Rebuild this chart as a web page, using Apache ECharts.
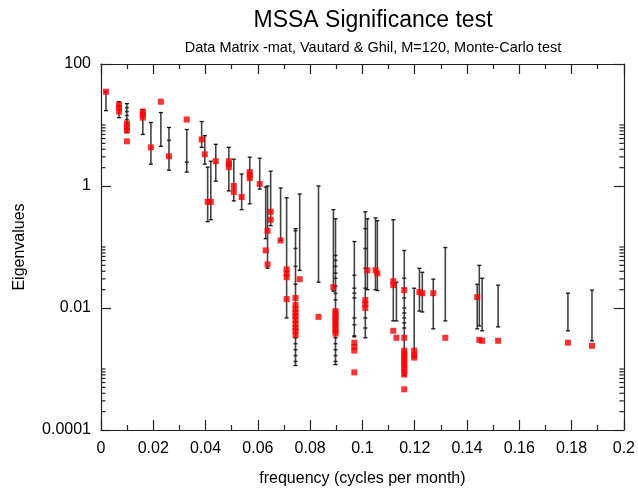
<!DOCTYPE html>
<html><head><meta charset="utf-8">
<script src="https://cdn.jsdelivr.net/npm/echarts@6/dist/echarts.min.js"></script>
<style>html,body{margin:0;padding:0;background:#fff}#c{width:638px;height:492px}</style>
</head><body><div id="c"></div>
<script>
// Monte-Carlo error bars: frequency, upper and lower limits
const barFreq = [0.0019,0.0069,0.0099,0.0160,0.0191,0.0229,0.0260,0.0328,0.0385,0.0397,0.0408,0.0420,0.0439,0.0489,0.0508,0.0538,0.0569,0.0607,0.0630,0.0637,0.0649,0.0687,0.0710,0.0744,0.0760,0.0832,0.0889,0.0897,0.0969,0.1011,0.1019,0.1050,0.1057,0.1118,0.1130,0.1160,0.1198,0.1218,0.1229,0.1271,0.1317,0.1439,0.1447,0.1458,0.1519,0.1786,0.1878];
const barHigh = [35.1,24.1,22.4,17.9,11.0,16.0,9.1,8.45,11.4,6.7,2.04,2.55,4.82,4.3,2.75,1.57,2.97,2.85,0.96,1.0,1.75,0.93,0.64,0.20,0.74,1.0,0.41,0.29,0.123,0.378,0.29,0.30,0.27,0.28,0.0265,0.0877,0.0211,0.0447,0.0385,0.0297,0.098,0.0245,0.05,0.0308,0.0237,0.0175,0.0196];
const barLow  = [17.2,13.2,7.55,7.0,2.28,4.47,1.82,1.69,4.3,2.28,0.26,0.28,1.2,0.83,0.57,0.41,0.51,0.89,0.137,0.045,0.224,0.128,0.00687,0.00114,0.0415,0.0265,0.0189,0.00118,0.00337,0.00325,0.02,0.02,0.0193,0.00615,0.00615,0.00078,0.00154,0.0089,0.0086,0.00456,0.00615,0.00456,0.0051,0.00423,0.0049,0.00423,0.0029];
// Individual Monte-Carlo marks along the bars
const dotFreq = [0.0099,0.0099,0.0099,0.0099,0.0099,0.0260,0.0328,
  0.0744,0.0744,0.0744,0.0744,0.0744,0.0744,0.0744,0.0744,0.0744,
  0.0897,0.0897,0.0897,0.0897,0.0897,0.0897,0.0897,0.0897,0.0897,0.0897,0.0897,0.0897,0.0897,
  0.0969,0.0969,0.0969,0.0969,0.0969,0.0969,0.0969,
  0.1011,0.1011,0.1011,0.1011,0.1011,0.1011,
  0.1160,0.1160,0.1160,0.1160,0.1160,0.1160,0.1160,0.1160];
const dotVal = [19.3,16.6,14.3,12.3,10.6,5.6,2.46,
  0.185,0.0946,0.0482,0.0245,0.00325,0.0026,0.00207,0.00166,0.00133,
  0.0728,0.0605,0.0482,0.0373,0.0307,0.0227,0.0174,0.0136,0.00325,0.0026,0.00207,0.00166,0.00133,
  0.0344,0.0211,0.0175,0.0146,0.00687,0.0053,0.0035,
  0.2,0.0946,0.0447,0.0211,0.00687,0.0047,
  0.0308,0.0211,0.0146,0.010,0.0083,0.00687,0.0057,0.0047];
// Eigenvalues of the data (red squares)
const redFreq = [0.0019,0.0069,0.0069,0.0069,0.0099,0.0099,0.0099,0.0099,0.0160,0.0160,0.0160,0.0191,0.0229,0.0260,0.0328,0.0385,0.0397,0.0408,0.0420,0.0439,0.0489,0.0489,0.0489,0.0508,0.0508,0.0538,0.0569,0.0569,0.0569,0.0607,0.0630,0.0637,0.0637,0.0649,0.0649,0.0687,0.0710,0.0710,0.0710,0.0710,
  0.0744,0.0744,0.0744,0.0744,0.0744,0.0744,0.0744,0.0744,0.0744,0.0744,
  0.0760,0.0832,0.0889,
  0.0897,0.0897,0.0897,0.0897,0.0897,0.0897,0.0897,0.0897,0.0897,
  0.0969,0.0969,0.0969,0.0969,0.1011,0.1011,0.1011,0.1019,0.1050,0.1057,0.1118,0.1118,0.1118,0.1130,
  0.1160,0.1160,0.1160,0.1160,0.1160,0.1160,0.1160,0.1160,0.1160,0.1160,0.1160,0.1160,
  0.1198,0.1198,0.1198,0.1218,0.1229,0.1271,0.1317,0.1439,0.1447,0.1458,0.1519,0.1786,0.1878];
const redVal  = [35.1,21.5,19.3,16.6,10.6,9.1,8.1,5.4,16.6,14.8,13.2,4.3,24.1,3.07,12.3,5.8,3.31,0.55,0.55,2.55,2.55,2.28,2.04,1.0,0.80,0.66,1.69,1.51,1.35,1.08,0.088,0.185,0.052,0.378,0.28,0.128,0.043,0.037,0.032,0.014,
  0.0146,0.0112,0.00964,0.0083,0.0074,0.0064,0.0055,0.0047,0.00423,0.0036,
  0.0297,0.00715,0.022,
  0.0089,0.00815,0.0074,0.0066,0.0059,0.0053,0.0047,0.00423,0.0038,
  0.0027,0.0023,0.0020,0.00088,0.0135,0.0116,0.010,0.0415,0.0415,0.037,0.0275,0.0237,0.00423,0.00325,
  0.0196,0.00325,0.0020,0.00179,0.0016,0.00143,0.00128,0.00114,0.00102,0.00091,0.00081,0.000465,
  0.0020,0.00172,0.00154,0.0182,0.0175,0.0175,0.00325,0.0151,0.0030,0.0029,0.0029,0.0027,0.0024];
const xTickLabels = ['0','0.02','0.04','0.06','0.08','0.1','0.12','0.14','0.16','0.18','0.2'];
const yTickLabels = {'0.0001':'0.0001','0.01':'0.01','1':'1','100':'100'};

const minorVals = [];
[-4,-2,0].forEach(k => { for (let m = 2; m <= 10; m++) minorVals.push([0, m * Math.pow(10, k)]); });

const FONT = '"Liberation Sans", Arial, Helvetica, sans-serif';
const axisCol = '#222';
const chart = echarts.init(document.getElementById('c'), null, {renderer: 'canvas'});
chart.setOption({
  animation: false,
  backgroundColor: '#fff',
  title: [
    {text: 'MSSA Significance test', left: 368, top: 4, textAlign: 'center',
     textStyle: {fontFamily: FONT, fontSize: 23, fontWeight: 'normal', color: '#000'}},
    {text: 'Data Matrix -mat, Vautard & Ghil, M=120, Monte-Carlo test', left: 368, top: 35, textAlign: 'center',
     textStyle: {fontFamily: FONT, fontSize: 14.5, fontWeight: 'normal', color: '#000'}}
  ],
  grid: {left: 101, right: 13, top: 64, bottom: 59, containLabel: false},
  xAxis: [
    {type: 'value', min: 0, max: 0.2, interval: 0.02, position: 'bottom',
     name: 'frequency (cycles per month)', nameLocation: 'middle', nameGap: 41,
     nameTextStyle: {fontFamily: FONT, fontSize: 16, color: '#000'},
     axisLine: {show: true, onZero: false, lineStyle: {color: axisCol, width: 1.2}},
     axisTick: {show: true, inside: true, length: 10, lineStyle: {color: axisCol, width: 1.2}},
     minorTick: {show: true, splitNumber: 2, length: 5, lineStyle: {color: axisCol, width: 1.2}},
     splitLine: {show: false},
     axisLabel: {fontFamily: FONT, fontSize: 16, color: '#000', margin: 11,
       formatter: (v) => xTickLabels[Math.round(v / 0.02)]}},
    {type: 'value', min: 0, max: 0.2, interval: 0.02, position: 'top',
     axisLine: {show: true, onZero: false, lineStyle: {color: axisCol, width: 1.2}},
     axisTick: {show: true, inside: true, length: 10, lineStyle: {color: axisCol, width: 1.2}},
     minorTick: {show: true, splitNumber: 2, length: 5, lineStyle: {color: axisCol, width: 1.2}},
     splitLine: {show: false}, axisLabel: {show: false}}
  ],
  yAxis: [
    {type: 'log', logBase: 10, min: 0.0001, max: 100, interval: 2, position: 'left',
     name: 'Eigenvalues', nameLocation: 'middle', nameGap: 73,
     nameTextStyle: {fontFamily: FONT, fontSize: 16, color: '#000'},
     axisLine: {show: true, onZero: false, lineStyle: {color: axisCol, width: 1.2}},
     axisTick: {show: true, inside: true, length: 10, lineStyle: {color: axisCol, width: 1.2}},
     splitLine: {show: false},
     axisLabel: {fontFamily: FONT, fontSize: 16, color: '#000', margin: 10,
       formatter: (v) => { const k = String(+Number(v).toPrecision(6)); return yTickLabels[k] !== undefined ? yTickLabels[k] : ''; }}},
    {type: 'log', logBase: 10, min: 0.0001, max: 100, interval: 2, position: 'right',
     axisLine: {show: true, onZero: false, lineStyle: {color: axisCol, width: 1.2}},
     axisTick: {show: true, inside: true, length: 10, lineStyle: {color: axisCol, width: 1.2}},
     splitLine: {show: false}, axisLabel: {show: false}}
  ],
  series: [
    {type: 'custom', name: 'minorTicks', xAxisIndex: 0, yAxisIndex: 0, clip: false, silent: true, z: 5,
     encode: {x: 0, y: 1},
     data: minorVals,
     renderItem: (params, api) => {
       const v = api.value(1);
       const l = api.coord([0, v]);
       const r = api.coord([0.2, v]);
       const st = {stroke: axisCol, lineWidth: 1.2, fill: null};
       return {type: 'group', children: [
         {type: 'line', shape: {x1: l[0], y1: l[1], x2: l[0] + 4.5, y2: l[1]}, style: st},
         {type: 'line', shape: {x1: r[0], y1: r[1], x2: r[0] - 4.5, y2: r[1]}, style: st}
       ]};
     }},
    {type: 'custom', name: 'bars', xAxisIndex: 0, yAxisIndex: 0, silent: true,
     data: barFreq.map((f, i) => [f, barHigh[i], barLow[i]]),
     renderItem: (params, api) => {
       const f = api.value(0);
       const a = api.coord([f, api.value(1)]);
       const b = api.coord([f, api.value(2)]);
       const st = {stroke: '#111', lineWidth: 1.3};
       return {type: 'group', children: [
         {type: 'line', shape: {x1: a[0], y1: a[1], x2: b[0], y2: b[1]}, style: {stroke: '#444', lineWidth: 1.6}},
         {type: 'line', shape: {x1: a[0] - 2, y1: a[1], x2: a[0] + 2, y2: a[1]}, style: st},
         {type: 'line', shape: {x1: b[0] - 2, y1: b[1], x2: b[0] + 2, y2: b[1]}, style: st}
       ]};
     }},
    {type: 'scatter', name: 'marks', xAxisIndex: 0, yAxisIndex: 0, symbol: 'rect', symbolSize: [4, 1.6],
     silent: true, itemStyle: {color: '#111'},
     data: dotFreq.map((f, i) => [f, dotVal[i]])},
    {type: 'scatter', name: 'eigen', xAxisIndex: 0, yAxisIndex: 0, symbol: 'rect', symbolSize: 6,
     itemStyle: {color: '#ff0000'}, z: 4,
     data: redFreq.map((f, i) => [f, redVal[i]])}
  ]
});
</script></body></html>
